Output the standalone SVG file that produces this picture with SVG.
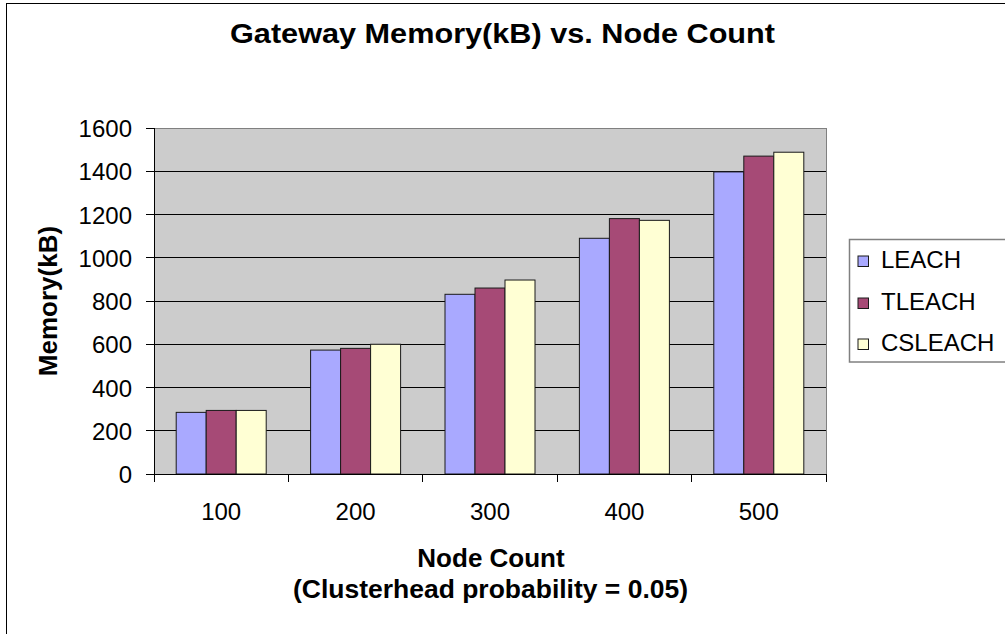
<svg xmlns="http://www.w3.org/2000/svg" width="1005" height="634" viewBox="0 0 1005 634">
<style>
text{font-family:"Liberation Sans",Arial,sans-serif;fill:#000}
.b{font-weight:bold}
.tk{font-size:24px}
.grid{stroke:#000;stroke-width:1;shape-rendering:crispEdges}
.ax{stroke:#000;stroke-width:1;fill:none;shape-rendering:crispEdges}
.s1{fill:#a9a9ff;stroke:#1a1a1a;stroke-width:1}
.s2{fill:#a64a76;stroke:#1a1a1a;stroke-width:1}
.s3{fill:#ffffd4;stroke:#1a1a1a;stroke-width:1}
</style>
<rect x="0" y="0" width="1005" height="634" fill="#fff"/>
<rect x="6.5" y="3.5" width="1100" height="700" fill="#fff" stroke="#000" stroke-width="1"/>
<g id="title"><text class="b" x="502.5" y="43" font-size="27" text-anchor="middle" textLength="545" lengthAdjust="spacingAndGlyphs">Gateway Memory(kB) vs. Node Count</text></g>
<g id="plot">
<rect x="154" y="128" width="672" height="346" fill="#cccccc"/>
<g class="grid">
<line x1="154" y1="430.75" x2="826" y2="430.75"/>
<line x1="154" y1="387.5" x2="826" y2="387.5"/>
<line x1="154" y1="344.25" x2="826" y2="344.25"/>
<line x1="154" y1="301" x2="826" y2="301"/>
<line x1="154" y1="257.75" x2="826" y2="257.75"/>
<line x1="154" y1="214.5" x2="826" y2="214.5"/>
<line x1="154" y1="171.25" x2="826" y2="171.25"/>
</g>
<line x1="154" y1="128" x2="826" y2="128" stroke="#808080" shape-rendering="crispEdges"/>
<line x1="826" y1="128" x2="826" y2="474" stroke="#808080" shape-rendering="crispEdges"/>
</g>
<g id="series-LEACH">
<rect class="s1" x="176.2" y="412.37" width="30" height="61.63"/>
<rect class="s1" x="310.6" y="350.09" width="30" height="123.91"/>
<rect class="s1" x="445" y="294.3" width="30" height="179.7"/>
<rect class="s1" x="579.4" y="238.29" width="30" height="235.71"/>
<rect class="s1" x="713.8" y="171.9" width="30" height="302.1"/>
</g>
<g id="series-TLEACH">
<rect class="s2" x="206.2" y="410.42" width="30" height="63.58"/>
<rect class="s2" x="340.6" y="348.36" width="30" height="125.64"/>
<rect class="s2" x="475" y="288.03" width="30" height="185.97"/>
<rect class="s2" x="609.4" y="218.61" width="30" height="255.39"/>
<rect class="s2" x="743.8" y="156.11" width="30" height="317.89"/>
</g>
<g id="series-CSLEACH">
<rect class="s3" x="236.2" y="410.42" width="30" height="63.58"/>
<rect class="s3" x="370.6" y="344.25" width="30" height="129.75"/>
<rect class="s3" x="505" y="280.02" width="30" height="193.98"/>
<rect class="s3" x="639.4" y="220.34" width="30" height="253.66"/>
<rect class="s3" x="773.8" y="152.22" width="30" height="321.78"/>
</g>
<g id="axes">
<path class="ax" d="M154 128V482 M146 474H826 M146 128H154 M146 171.25H154 M146 214.5H154 M146 257.75H154 M146 301H154 M146 344.25H154 M146 387.5H154 M146 430.75H154 M288.4 474V482 M422.8 474V482 M557.2 474V482 M691.6 474V482 M826 474V482"/>
</g>
<g id="y-labels" class="tk" text-anchor="end">
<text class="tk" x="132" y="137">1600</text>
<text class="tk" x="132" y="180.25">1400</text>
<text class="tk" x="132" y="223.5">1200</text>
<text class="tk" x="132" y="266.75">1000</text>
<text class="tk" x="132" y="310">800</text>
<text class="tk" x="132" y="353.25">600</text>
<text class="tk" x="132" y="396.5">400</text>
<text class="tk" x="132" y="439.75">200</text>
<text class="tk" x="132" y="483">0</text>
</g>
<g id="x-labels" text-anchor="middle">
<text class="tk" x="221.2" y="520">100</text>
<text class="tk" x="355.6" y="520">200</text>
<text class="tk" x="490" y="520">300</text>
<text class="tk" x="624.4" y="520">400</text>
<text class="tk" x="758.8" y="520">500</text>
</g>
<g id="x-title" text-anchor="middle">
<text class="b" x="491" y="567" font-size="26">Node Count</text>
<text class="b" x="490.5" y="598" font-size="26" textLength="395" lengthAdjust="spacingAndGlyphs">(Clusterhead probability = 0.05)</text>
</g>
<g id="y-title"><text class="b" font-size="26" text-anchor="middle" transform="translate(57,301) rotate(-90)">Memory(kB)</text></g>
<g id="legend">
<rect x="849.5" y="239.5" width="170" height="122.5" fill="#fff" stroke="#808080" stroke-width="1.5"/>
<rect class="s1" x="858" y="256" width="10.5" height="10.5"/>
<text class="tk" x="881" y="267.5">LEACH</text>
<rect class="s2" x="858" y="298" width="10.5" height="10.5"/>
<text class="tk" x="881" y="309.5">TLEACH</text>
<rect class="s3" x="858" y="339" width="10.5" height="10.5"/>
<text class="tk" x="881" y="350.5">CSLEACH</text>
</g>
</svg>
